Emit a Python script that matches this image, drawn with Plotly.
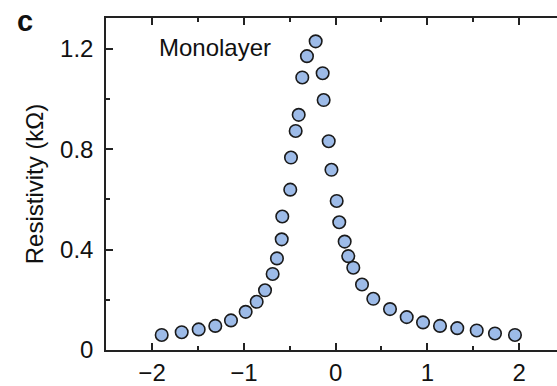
import plotly.graph_objects as go

# Carrier density sweep (x, 10^12 cm^-2) and resistivity (kΩ) for the monolayer sample
density = [
    -1.895, -1.677, -1.492, -1.311, -1.140, -0.980, -0.860, -0.769, -0.686, -0.639,
    -0.587, -0.581, -0.494, -0.486, -0.435, -0.402, -0.363, -0.312, -0.217,
    -0.141, -0.130, -0.075, -0.045, 0.012, 0.040, 0.099, 0.138, 0.193, 0.288,
    0.411, 0.593, 0.775, 0.953, 1.138, 1.326, 1.538, 1.737, 1.955,
]
resistivity = [
    0.060, 0.071, 0.082, 0.096, 0.118, 0.152, 0.192, 0.238, 0.303, 0.365,
    0.441, 0.532, 0.639, 0.767, 0.873, 0.937, 1.086, 1.171, 1.230,
    1.103, 0.996, 0.832, 0.718, 0.594, 0.509, 0.432, 0.374, 0.328, 0.261,
    0.204, 0.163, 0.131, 0.110, 0.096, 0.087, 0.078, 0.066, 0.060,
]

x_ticks = [-2, -1, 0, 1, 2]
y_ticks = [0, 0.4, 0.8, 1.2]
y_tick_text = ["0", "0.4", "0.8", "1.2"]

FONT = "Liberation Sans, Arial, Helvetica, sans-serif"
AXIS_COLOR = "#222222"
FS = 24

# plot-area geometry in pixels
L, R, T, B = 106, 0, 18, 32
PW, PH = 557 - L - R, 386 - T - B

fig = go.Figure()
fig.add_trace(go.Scatter(
    x=density,
    y=resistivity,
    mode="markers",
    marker=dict(size=12.5, color="#9dbbe8", line=dict(color="#1a1a1a", width=1.6)),
    showlegend=False,
))

fig.update_layout(
    width=557,
    height=386,
    margin=dict(l=L, r=R, t=T, b=B),
    paper_bgcolor="white",
    plot_bgcolor="white",
    font=dict(family=FONT, size=FS, color="#111111"),
    xaxis=dict(
        range=[-2.502, 2.413],
        tickmode="array",
        tickvals=x_ticks,
        ticks="inside",
        ticklen=7,
        tickwidth=1.5,
        tickcolor=AXIS_COLOR,
        showline=True,
        linecolor=AXIS_COLOR,
        linewidth=1.5,
        mirror="ticks",
        showgrid=False,
        zeroline=False,
        minor=dict(dtick=0.5, tick0=0, ticks="inside", ticklen=4,
                   tickwidth=1.5, tickcolor=AXIS_COLOR, showgrid=False),
        tickfont=dict(size=FS),
        ticklabelstandoff=0,
    ),
    yaxis=dict(
        range=[0, 1.323],
        tickmode="array",
        tickvals=y_ticks,
        ticktext=y_tick_text,
        ticks="inside",
        ticklen=7,
        tickwidth=1.5,
        tickcolor=AXIS_COLOR,
        showline=True,
        linecolor=AXIS_COLOR,
        linewidth=1.5,
        showgrid=False,
        zeroline=False,
        minor=dict(dtick=0.2, tick0=0, ticks="inside", ticklen=4,
                   tickwidth=1.5, tickcolor=AXIS_COLOR, showgrid=False),
        tickfont=dict(size=FS),
        ticklabelstandoff=6,
        title=dict(text="Resistivity (kΩ)", font=dict(size=FS), standoff=10),
    ),
    annotations=[
        dict(text="Monolayer", x=-1.314, y=1.205, xref="x", yref="y",
             showarrow=False, font=dict(size=FS), xanchor="center", yanchor="middle"),
        dict(text="<b>c</b>", x=(15 - L) / PW, y=(386 - B - 21) / PH,
             xref="paper", yref="paper", showarrow=False,
             font=dict(size=29), xanchor="left", yanchor="middle"),
    ],
)

fig.write_html("out.html")
